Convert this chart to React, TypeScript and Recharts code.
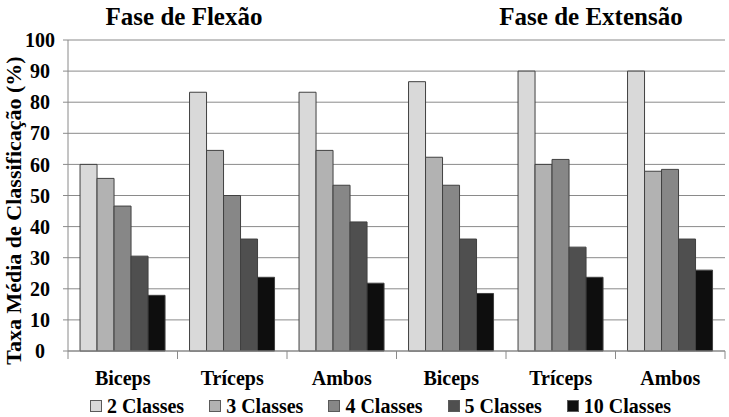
import React from 'react';
import {
  BarChart,
  Bar,
  XAxis,
  YAxis,
  CartesianGrid,
  Legend,
  Label
} from 'recharts';

const categories = ['Biceps', 'Tríceps', 'Ambos', 'Biceps', 'Tríceps', 'Ambos'];
const classes2 = [60, 83.2, 83.2, 86.6, 90, 90];
const classes3 = [55.5, 64.5, 64.5, 62.3, 60, 57.8];
const classes4 = [46.6, 50, 53.3, 53.3, 61.6, 58.4];
const classes5 = [30.5, 36, 41.5, 36, 33.4, 36];
const classes10 = [17.9, 23.7, 21.8, 18.5, 23.7, 26];
const yTicks = [0, 10, 20, 30, 40, 50, 60, 70, 80, 90, 100];

const SERIES = [
  { key: 'c2', name: '2 Classes', color: '#d9d9d9' },
  { key: 'c3', name: '3 Classes', color: '#b2b2b2' },
  { key: 'c4', name: '4 Classes', color: '#878787' },
  { key: 'c5', name: '5 Classes', color: '#4f4f4f' },
  { key: 'c10', name: '10 Classes', color: '#0e0e0e' }
];

const FONT = '"Liberation Serif", "Times New Roman", serif';
const GRID = '#8a8a8a';

const data = categories.map((cat, i) => ({
  cat,
  c2: classes2[i],
  c3: classes3[i],
  c4: classes4[i],
  c5: classes5[i],
  c10: classes10[i]
}));

// category ticks sit on band boundaries, like the spreadsheet original
const CategoryTick = (props: any) => {
  const { x, y, payload, width, visibleTicksCount, index } = props;
  const band = width / visibleTicksCount;
  const axisY = y - 20;
  return (
    <g>
      <line x1={x - band / 2} y1={axisY} x2={x - band / 2} y2={axisY + 8} stroke={GRID} />
      {index === visibleTicksCount - 1 && (
        <line x1={x + band / 2} y1={axisY} x2={x + band / 2} y2={axisY + 8} stroke={GRID} />
      )}
      <text x={x} y={y} dy="0.71em" textAnchor="middle" fontFamily={FONT} fontWeight="bold" fontSize={20} fill="#000">
        {payload.value}
      </text>
    </g>
  );
};

const ValueTick = (props: any) => {
  const { x, y, payload } = props;
  return (
    <text x={x - 13} y={y} dy="0.355em" textAnchor="middle" fontFamily={FONT} fontWeight="bold" fontSize={20} fill="#000">
      {payload.value}
    </text>
  );
};

const LegendBox = () => (
  <div
    style={{
      position: 'relative',
      top: 2,
      display: 'flex',
      justifyContent: 'center',
      alignItems: 'center',
      gap: 25,
      paddingLeft: 36,
      height: 26,
      fontFamily: FONT,
      fontWeight: 'bold',
      fontSize: 20,
      color: '#000'
    }}
  >
    {SERIES.map(s => (
      <div key={s.key} style={{ display: 'flex', alignItems: 'center' }}>
        <span
          style={{
            display: 'inline-block',
            width: 10,
            height: 10,
            background: s.color,
            border: '1px solid #5a5a5a',
            marginRight: 5
          }}
        />
        <span>{s.name}</span>
      </div>
    ))}
  </div>
);

const titleStyle: React.CSSProperties = {
  position: 'absolute',
  top: 4,
  width: 300,
  textAlign: 'center',
  fontFamily: FONT,
  fontWeight: 'bold',
  fontSize: 25,
  lineHeight: '25px',
  color: '#000'
};

export default function App() {
  return (
    <div style={{ position: 'absolute', left: 0, top: 0, width: 729, height: 417, background: '#fff' }}>
      <BarChart
        width={729}
        height={417}
        data={data}
        margin={{ top: 40, right: 4, left: 0, bottom: 0 }}
        barCategoryGap="11%"
        barGap={0}
      >
        <CartesianGrid vertical={false} stroke={GRID} />
        <XAxis
          dataKey="cat"
          height={40}
          axisLine={{ stroke: GRID }}
          tickLine={false}
          tickSize={8}
          tickMargin={12}
          interval={0}
          tick={<CategoryTick />}
        />
        <YAxis
          width={68}
          domain={[0, 100]}
          ticks={yTicks}
          interval={0}
          axisLine={{ stroke: GRID }}
          tickLine={{ stroke: GRID }}
          tickSize={5}
          tickMargin={10}
          tick={<ValueTick />}
        >
          <Label
            content={({ viewBox }: any) => {
              const cx = viewBox.x + 13;
              const cy = viewBox.y + viewBox.height / 2 + 15;
              return (
                <text
                  x={cx}
                  y={cy}
                  transform={`rotate(-90, ${cx}, ${cy})`}
                  textAnchor="middle"
                  dominantBaseline="central"
                  fontFamily={FONT}
                  fontWeight="bold"
                  fontSize={22}
                  fill="#000"
                >
                  Taxa Média de Classificação (%)
                </text>
              );
            }}
          />
        </YAxis>
        <Legend verticalAlign="bottom" content={<LegendBox />} />
        {SERIES.map(s => (
          <Bar
            key={s.key}
            dataKey={s.key}
            name={s.name}
            fill={s.color}
            stroke="#404040"
            strokeWidth={1}
            isAnimationActive={false}
          />
        ))}
      </BarChart>
      <div style={{ ...titleStyle, left: 184 - 150 }}>Fase de Flexão</div>
      <div style={{ ...titleStyle, left: 591 - 150 }}>Fase de Extensão</div>
    </div>
  );
}
